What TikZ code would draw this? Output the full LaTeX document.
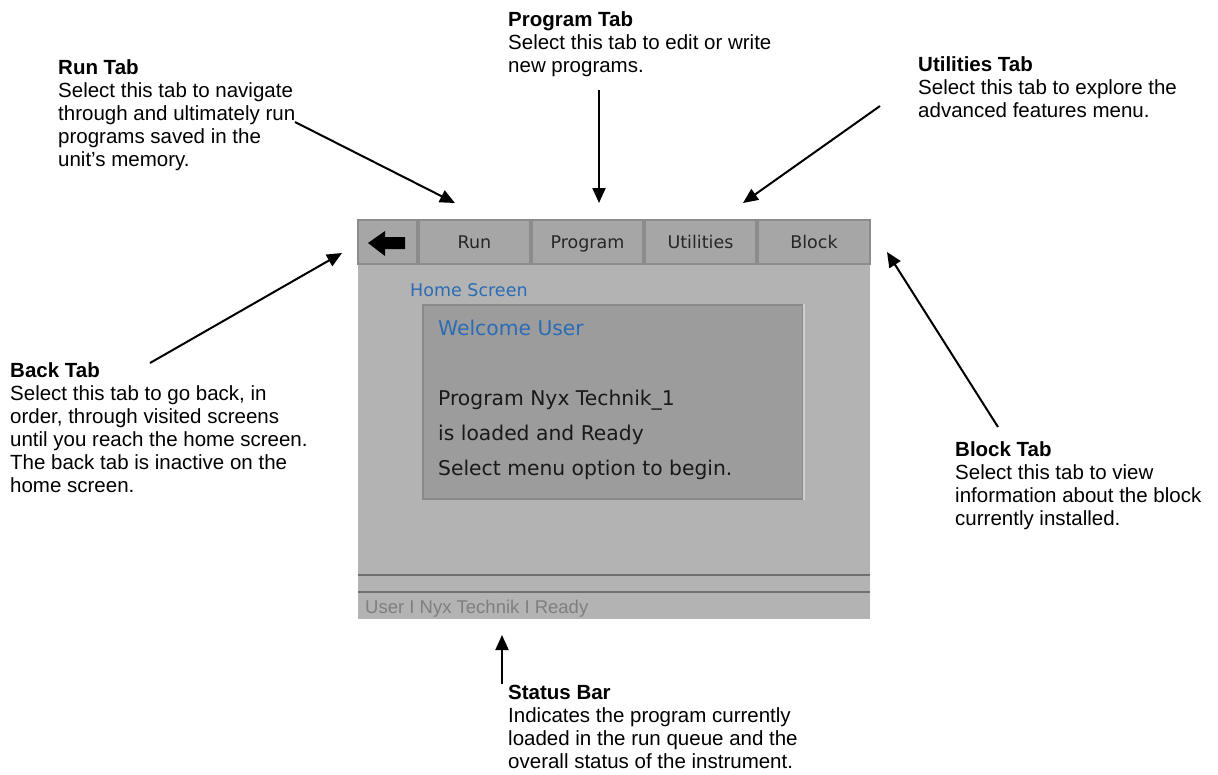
\documentclass[tikz,border=0pt]{standalone}
\usepackage{fontspec}
\setmainfont{Liberation Sans}
\newfontfamily\scrfont{DejaVu Sans}
\usetikzlibrary{arrows.meta}
\definecolor{scrbg}{HTML}{B3B3B3}
\definecolor{tabbg}{HTML}{A6A6A6}
\definecolor{tabedge}{HTML}{8C8C8C}
\definecolor{boxbg}{HTML}{9C9C9C}
\definecolor{boxedge}{HTML}{8A8A8A}
\definecolor{boxlight}{HTML}{CFCFCF}
\definecolor{scrblue}{HTML}{2B6CB5}
\definecolor{stattext}{HTML}{7F7F7F}
\definecolor{sepline}{HTML}{707070}
\begin{document}
\begin{tikzpicture}[x=1pt,y=-1pt,
  note/.style={anchor=north west,inner sep=0pt,align=left,font=\fontsize{20.5}{23}\selectfont},
  callout/.style={line width=2pt,-{Triangle[length=15pt,width=13pt]}},
  tabbox/.style={fill=tabbg,draw=tabedge,line width=1.5pt,inner sep=0pt,minimum height=44pt,
    text height=15pt,text depth=3pt,font=\scrfont\fontsize{17.5}{20}\selectfont,text=black!85},
  scrtext/.style={font=\scrfont\fontsize{20.3}{24}\selectfont,anchor=base west,inner sep=0pt,text=black!90}
]
\useasboundingbox (0,0) rectangle (1218,774);
\fill[white] (0,0) rectangle (1218,774);
% screen
\fill[scrbg] (358,220) rectangle (870,619);
\node[tabbox,minimum width=59pt] (backtab) at (387.5,242) {};
\node[tabbox,minimum width=111pt] (runtab) at (474.5,242) {Run};
\node[tabbox,minimum width=111pt] (progtab) at (587.5,242) {Program};
\node[tabbox,minimum width=111pt] (utiltab) at (700.5,242) {Utilities};
\node[tabbox,minimum width=112pt] (blocktab) at (814,242) {Block};
\fill[black] (368,243) -- (385,231) -- (385,237) -- (405,237) -- (405,249) -- (385,249) -- (385,256) -- cycle;
\node[scrtext,text=scrblue,font=\scrfont\fontsize{17.5}{20}\selectfont] (home) at (410,296) {Home Screen};
\node[fill=boxbg,draw=boxedge,line width=1.5pt,minimum width=380pt,minimum height=194pt,inner sep=0pt] (msgbox) at (613,402) {};
\draw[boxlight,line width=1.5pt] (msgbox.north east) -- (msgbox.south east);
\node[scrtext,text=scrblue] (welcome) at (438,335) {Welcome User};
\node[scrtext] (line1) at (438,405) {Program Nyx Technik\_1};
\node[scrtext] (line2) at (438,440) {is loaded and Ready};
\node[scrtext] (line3) at (438,475) {Select menu option to begin.};
\draw[sepline,line width=2pt] (358,575) -- (870,575);
\draw[sepline,line width=2pt] (358,592) -- (870,592);
\node[anchor=base west,inner sep=0pt,font=\fontsize{18.5}{20}\selectfont,text=stattext] (status) at (365,613) {User I Nyx Technik I Ready};
% annotations
\node[note] (runnote) at (58,59) {\textbf{Run Tab}\\Select this tab to navigate\\through and ultimately run\\programs saved in the\\unit’s memory.};
\node[note] (prognote) at (508,11) {\textbf{Program Tab}\\Select this tab to edit or write\\new programs.};
\node[note] (utilnote) at (918,56) {\textbf{Utilities Tab}\\Select this tab to explore the\\advanced features menu.};
\node[note] (backnote) at (10,362) {\textbf{Back Tab}\\Select this tab to go back, in\\order, through visited screens\\until you reach the home screen.\\The back tab is inactive on the\\home screen.};
\node[note] (blocknote) at (955,441) {\textbf{Block Tab}\\Select this tab to view\\information about the block\\currently installed.};
\node[note] (statnote) at (508,685) {\textbf{Status Bar}\\Indicates the program currently\\loaded in the run queue and the\\overall status of the instrument.};
% callout arrows
\coordinate (runtail) at (295,122);  \coordinate (runtip) at (455,203);
\coordinate (progtail) at (599,90);  \coordinate (progtip) at (599,203);
\coordinate (utiltail) at (880,106); \coordinate (utiltip) at (743,203);
\coordinate (backtail) at (150,363); \coordinate (backtip) at (342,253);
\coordinate (blocktail) at (998,427); \coordinate (blocktip) at (887,252);
\coordinate (stattail) at (502,684); \coordinate (stattip) at (502,635);
\draw[callout] (runtail) -- (runtip);
\draw[callout] (progtail) -- (progtip);
\draw[callout] (utiltail) -- (utiltip);
\draw[callout] (backtail) -- (backtip);
\draw[callout] (blocktail) -- (blocktip);
\draw[callout] (stattail) -- (stattip);
\end{tikzpicture}
\end{document}
